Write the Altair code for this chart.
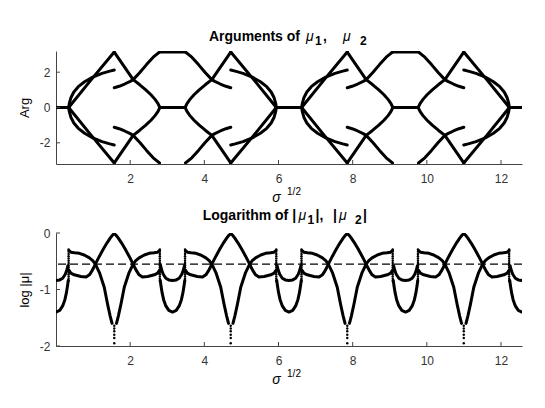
import altair as alt
import pandas as pd

# ---------------- values ----------------
X_MAX = 12.566                       # right end of the x axis (sigma^1/2)
X_TICKS = [2, 4, 6, 8, 10, 12]
ARG_TICKS = [-2, 0, 2]
LOG_TICKS = [-2, -1, 0]

# centres of the four "lens" regions and of the flat regions between them
LENS_CENTERS = [1.571, 4.712, 7.854, 10.996]
LENS_MIRRORED = [False, True, False, True]   # upper panel: lenses 2 and 4 are left/right mirror images
FLAT_CENTERS = [0.0, 3.142, 6.283, 9.425, 12.566]
CUSP_X = [0.34, 2.80, 3.48, 5.94, 6.62, 9.08, 9.76, 12.22]

# upper panel: branches of one lens, as (offset from lens centre, argument)
ARG_B1 = [(-1.23, 0.0), (-0.62, 1.58), (0.0, 3.14)]
ARG_B2 = [(0.0, 3.14), (0.51, 1.58), (0.68, 1.30), (0.85, 1.00), (0.99, 0.72),
          (1.10, 0.46), (1.18, 0.22), (1.23, 0.0)]
ARG_B3 = [(-1.23, 0.0), (-1.21, 0.25), (-1.17, 0.55), (-1.09, 0.88), (-0.97, 1.18),
          (-0.80, 1.46), (-0.58, 1.72), (-0.33, 1.93), (-0.12, 2.06), (0.0, 2.12)]
ARG_B4 = [(0.0, 1.12), (0.13, 1.20), (0.28, 1.33), (0.43, 1.48), (0.51, 1.58),
          (0.69, 1.98), (0.87, 2.43), (1.05, 2.85), (1.22, 3.14)]
ARG_ZERO_SEGS = [(0.0, 0.34), (2.80, 3.48), (5.94, 6.62), (9.08, 9.76), (12.22, 12.566)]
ARG_PI_SEGS = [(2.79, 3.49), (9.07, 9.77)]
ARG_PI = 3.14

# lower panel: left half of one lens, as (offset from lens centre, log|mu|)
LOG_A = [(-1.22, -0.31), (-1.17, -0.34), (-1.07, -0.35), (-0.94, -0.36), (-0.81, -0.39),
         (-0.67, -0.44), (-0.58, -0.49), (-0.51, -0.55), (-0.40, -0.70), (-0.27, -0.96),
         (-0.18, -1.26), (-0.11, -1.47), (-0.06, -1.60)]
LOG_B = [(-1.22, -0.66), (-1.17, -0.71), (-1.08, -0.74), (-0.90, -0.77), (-0.76, -0.78),
         (-0.67, -0.74), (-0.61, -0.68), (-0.56, -0.62), (-0.51, -0.55), (-0.40, -0.41),
         (-0.29, -0.28), (-0.19, -0.17), (-0.11, -0.09), (-0.05, -0.04), (0.0, -0.01)]
# lower panel: the two U-shaped curves around each flat centre
LOG_U_UP = [(-0.32, -0.58), (-0.29, -0.66), (-0.25, -0.73), (-0.18, -0.80), (-0.10, -0.83),
            (0.0, -0.84), (0.10, -0.83), (0.18, -0.80), (0.25, -0.73), (0.29, -0.66), (0.32, -0.58)]
LOG_U_LO = [(-0.33, -0.84), (-0.31, -0.94), (-0.28, -1.06), (-0.24, -1.18), (-0.18, -1.29),
            (-0.10, -1.37), (0.0, -1.40), (0.10, -1.37), (0.18, -1.29), (0.24, -1.18),
            (0.28, -1.06), (0.31, -0.94), (0.33, -0.84)]
CUSP_DOT_Y = [-0.29, -0.33, -0.37, -0.41, -0.45, -0.49, -0.53, -0.57, -0.61, -0.65,
              -0.69, -0.73, -0.77, -0.81, -0.85]
DIP_DOT_Y = [-1.64, -1.69, -1.74, -1.80, -1.86, -1.95]
DASH_Y = -0.55

# titles, written in pieces so that the subscripts sit lower: (text, kind)
TOP_TITLE = [("Arguments of", "b"), ("μ", "m"), ("1", "s"), (",", "b"), ("μ", "m"), ("2", "s")]
BOTTOM_TITLE = [("Logarithm of |", "b"), ("μ", "m"), ("1", "s"), ("|,", "b"), ("|", "b"),
                ("μ", "m"), ("2", "s"), ("|", "b")]

# ---------------- layout / style ----------------
W, H = 466, 113
FONT = "Liberation Sans"
TOP_TITLE_X = [153, 250, 259, 267, 287, 304]
BOTTOM_TITLE_X = [146.7, 242.5, 251.5, 259.5, 277, 283, 299, 307]
PIECE_STYLE = {"b": dict(fontSize=14, fontWeight="bold", fontStyle="normal", dy=0),
               "m": dict(fontSize=14, fontWeight="normal", fontStyle="italic", dy=0),
               "s": dict(fontSize=12, fontWeight="bold", fontStyle="normal", dy=4)}


def push(rows, pts, seg):
    for i, (x, y) in enumerate(pts):
        if -1e-9 <= x <= X_MAX + 1e-9:
            rows.append({"x": x, "y": y, "seg": seg, "i": i})


top_rows, seg = [], 0
for c, mir in zip(LENS_CENTERS, LENS_MIRRORED):
    sx = -1 if mir else 1
    for br in (ARG_B1, ARG_B2, ARG_B3, ARG_B4):
        for sy in (1, -1):
            push(top_rows, [(c + sx * d, sy * a) for d, a in br], seg)
            seg += 1
for a, b in ARG_ZERO_SEGS:
    push(top_rows, [(a, 0.0), (b, 0.0)], seg)
    seg += 1
for a, b in ARG_PI_SEGS:
    push(top_rows, [(a, ARG_PI), (b, ARG_PI)], seg)
    seg += 1
top_df = pd.DataFrame(top_rows)

bot_rows, seg = [], 0
for c in LENS_CENTERS:
    for br in (LOG_A, LOG_B):
        for side in (1, -1):
            push(bot_rows, [(c + side * d, v) for d, v in br], seg)
            seg += 1
for f in FLAT_CENTERS:
    for br in (LOG_U_UP, LOG_U_LO):
        push(bot_rows, [(f + d, v) for d, v in br], seg)
        seg += 1
bot_df = pd.DataFrame(bot_rows)

dots_df = pd.DataFrame(
    [{"x": cx, "y": v} for cx in CUSP_X for v in CUSP_DOT_Y]
    + [{"x": c, "y": v} for c in LENS_CENTERS for v in DIP_DOT_Y]
)


# ---------------- chart ----------------
def make_panel(df, ydom, yticks, ytitle, title, title_x, title_gap, dots=None, dash=None):
    xenc = alt.X("x:Q", scale=alt.Scale(domain=[0, X_MAX], nice=False, zero=False),
                 axis=alt.Axis(values=X_TICKS, title="σ", titleFont=FONT, titleFontSize=14,
                               titleFontStyle="italic", titleFontWeight="normal",
                               titleX=220, titleY=37, titleBaseline="alphabetic",
                               titleAlign="center", titleColor="black",
                               labelFont=FONT, labelFontSize=12, labelColor="#333333",
                               labelPadding=9, ticks=False, tickSize=0, grid=False,
                               labelExpr="'' + datum.value",
                               domainColor="#444444", domainWidth=1, labelFlush=False))
    yenc = alt.Y("y:Q", scale=alt.Scale(domain=ydom, nice=False, zero=False),
                 axis=alt.Axis(values=yticks, title=ytitle, titleFont=FONT, titleFontSize=13,
                               titleFontWeight="normal", titleAngle=270, titleX=-28,
                               titleY=H / 2, titleBaseline="alphabetic", titleAlign="center",
                               titleColor="black", labelFont=FONT, labelFontSize=12,
                               labelColor="#333333", labelPadding=6, ticks=False, tickSize=0,
                               labelExpr="'' + datum.value",
                               grid=False, domainColor="#444444", domainWidth=1,
                               labelFlush=False, minExtent=20, maxExtent=20))
    layers = [
        alt.Chart(df).mark_line(color="black", strokeWidth=3, strokeJoin="round",
                                strokeCap="round", clip=True)
        .encode(x=xenc, y=yenc, detail="seg:N", order="i:Q")
    ]
    if dots is not None:
        layers.append(alt.Chart(dots).mark_circle(size=6, color="black", opacity=1)
                      .encode(x=xenc, y=yenc))
    if dash is not None:
        layers.append(alt.Chart(pd.DataFrame({"y": [dash]}))
                      .mark_rule(color="black", strokeWidth=1.1, strokeDash=[8, 4])
                      .encode(y=yenc))
    layers.append(alt.Chart(pd.DataFrame({"x": X_TICKS}))
                  .mark_rule(color="#444444", strokeWidth=1)
                  .encode(x=xenc, y=alt.value(H), y2=alt.value(H - 4)))
    layers.append(alt.Chart(pd.DataFrame({"y": yticks}))
                  .mark_rule(color="#444444", strokeWidth=1)
                  .encode(y=yenc, x=alt.value(0), x2=alt.value(4)))
    layers.append(alt.Chart(pd.DataFrame({"t": ["1/2"]}))
                  .mark_text(font=FONT, fontSize=10, color="black", align="center",
                             baseline="alphabetic")
                  .encode(text="t:N", x=alt.value(238), y=alt.value(H + 31)))
    for (txt, kind), px in zip(title, title_x):
        st = PIECE_STYLE[kind]
        layers.append(alt.Chart(pd.DataFrame({"t": [txt]}))
                      .mark_text(font=FONT, fontSize=st["fontSize"], fontWeight=st["fontWeight"],
                                 fontStyle=st["fontStyle"], color="black", align="left",
                                 baseline="alphabetic")
                      .encode(text="t:N", x=alt.value(px), y=alt.value(-title_gap + st["dy"])))
    return alt.layer(*layers).properties(width=W, height=H)


top = make_panel(top_df, [-3.2, 3.2], ARG_TICKS, "Arg", TOP_TITLE, TOP_TITLE_X, 10)
bottom = make_panel(bot_df, [-2, 0], LOG_TICKS, "log |μ|", BOTTOM_TITLE, BOTTOM_TITLE_X, 12.6,
                    dots=dots_df, dash=DASH_Y)

chart = (
    alt.vconcat(top, bottom, spacing=5)
    .properties(padding={"left": 10, "top": 22, "right": 10, "bottom": 5})
    .configure_view(stroke=None)
)

chart.save("out.html", embed_options={"renderer": "svg", "actions": False})
